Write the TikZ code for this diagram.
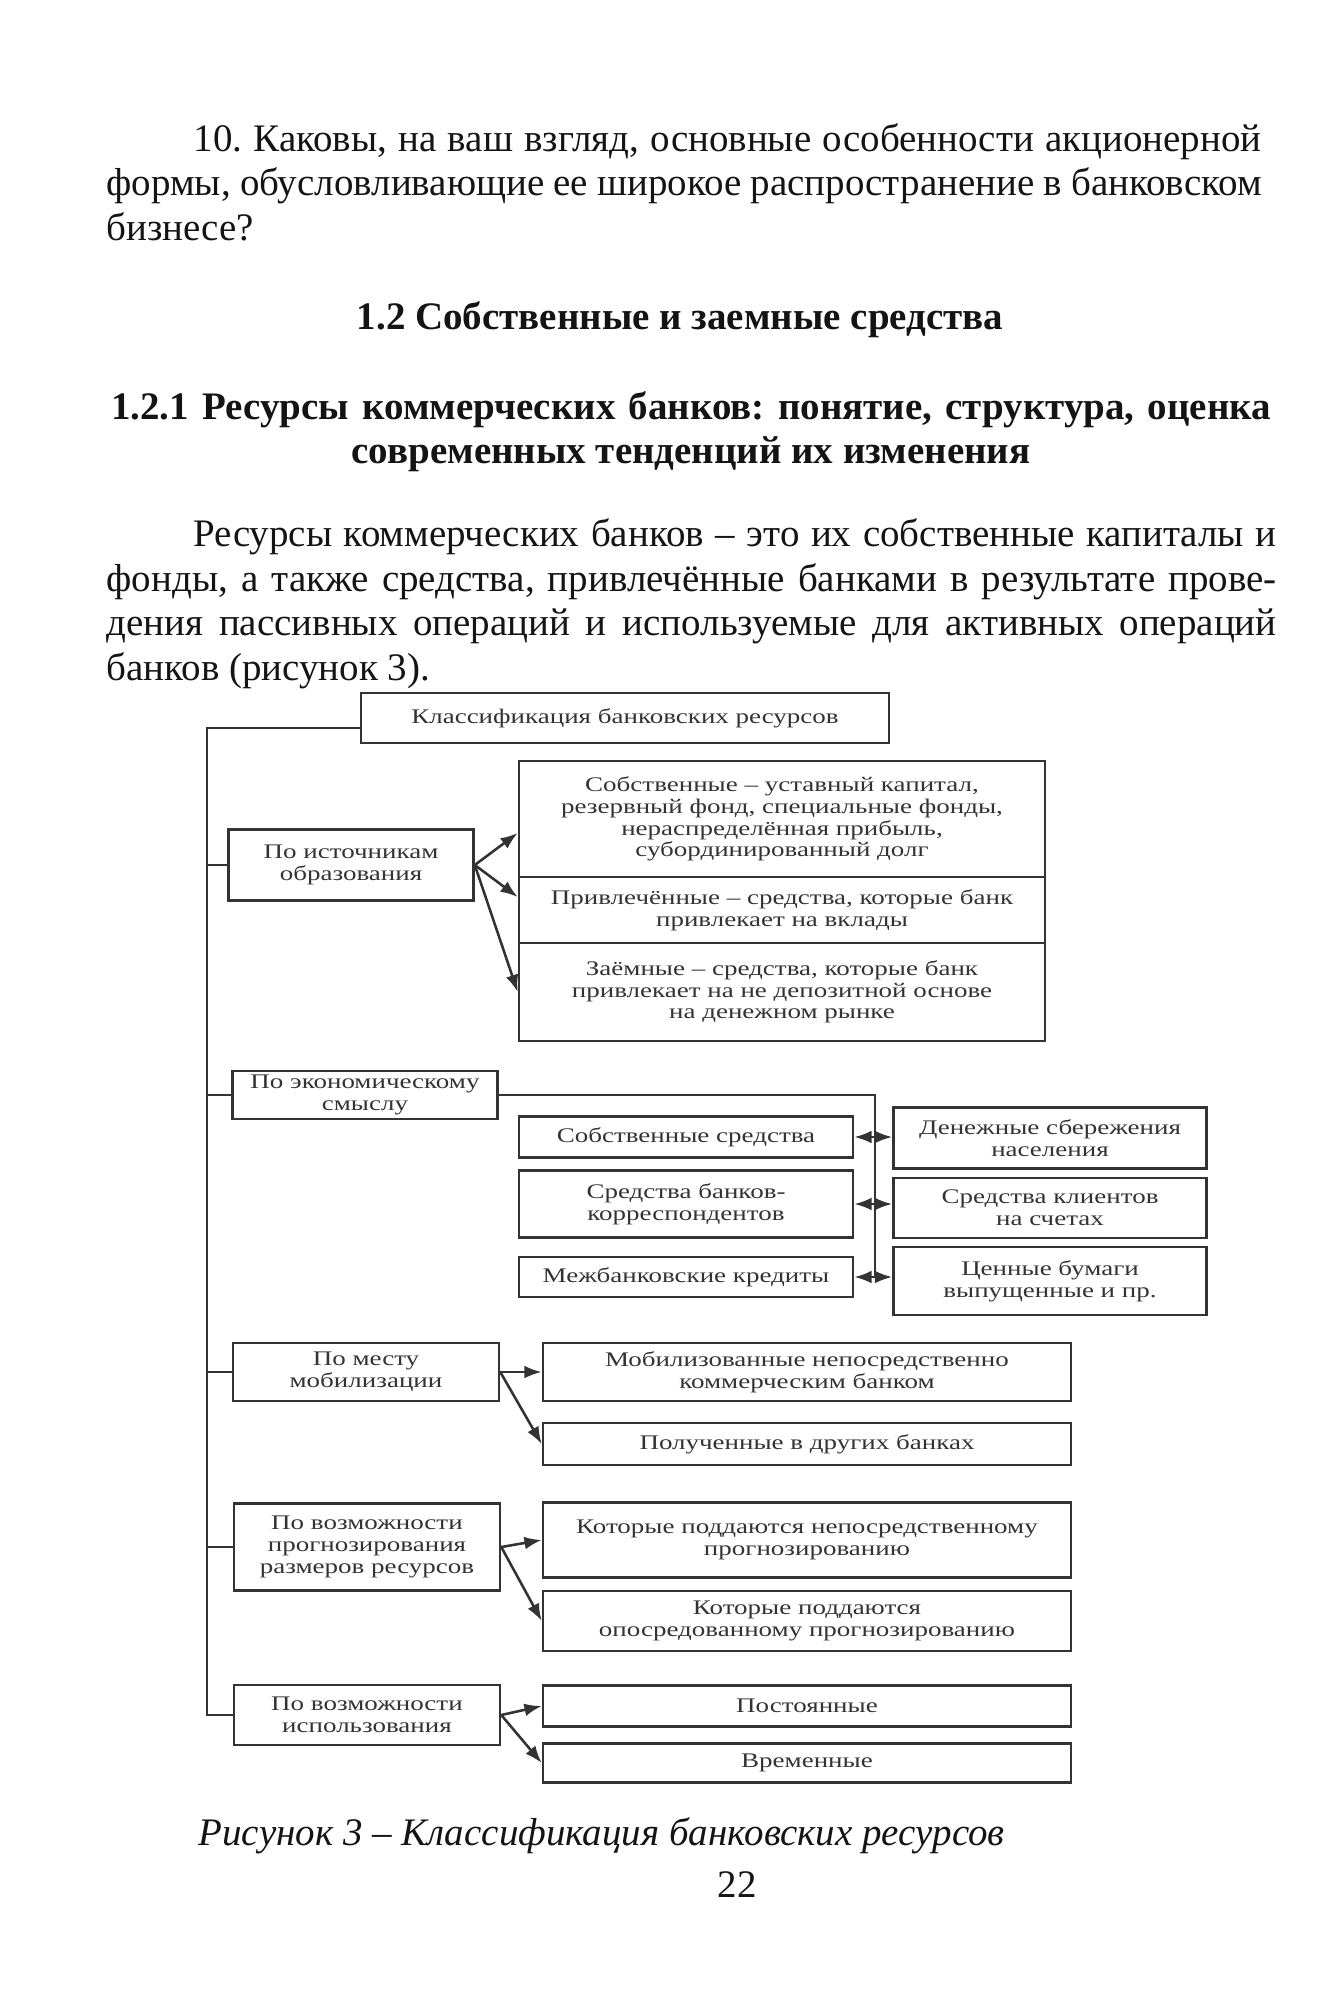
\documentclass[tikz,border=0pt]{standalone}
\usepackage{fontspec}
\setmainfont{Liberation Serif}
\newfontfamily\diagfont[FakeStretch=1.3]{Liberation Serif}
\usetikzlibrary{arrows.meta,positioning}
\newlength\pxu
\setlength\pxu{0.11mm}
\definecolor{ink}{gray}{0.08}
\definecolor{dink}{gray}{0.2}
\frenchspacing
\tikzstyle{box} = [draw=dink,line width=0.8pt,align=center,inner sep=1pt,text=dink,font=\fontsize{6.5}{6.8}\diagfont]
\tikzstyle{edge} = [draw=dink,line width=0.8pt,-{Latex[length=1.9mm,width=1.4mm]}]
\tikzstyle{dedge} = [draw=dink,line width=0.8pt,{Latex[length=1.9mm,width=1.4mm]}-{Latex[length=1.9mm,width=1.4mm]}]
\tikzstyle{line} = [draw=dink,line width=0.8pt]
\tikzstyle{txt} = [align=left,inner sep=0,text=ink,font=\fontsize{12.2}{13.9}\selectfont]
\tikzstyle{head} = [align=center,inner sep=0,text=ink,font=\bfseries\fontsize{12.2}{13.6}\selectfont]
\tikzset{sz/.style 2 args={minimum width=#1\pxu,minimum height=#2\pxu}}

\begin{document}
\begin{tikzpicture}[x=\pxu,y=-\pxu]
   \fill[white] (0,0) rectangle (1343,2000);
   \useasboundingbox (0,0) rectangle (1343,2000);

   \node[txt,anchor=base west] (q10) at (106,240) {\hspace*{87\pxu}\makebox[1068\pxu][s]{10. Каковы, на ваш взгляд, основные особенности акционерной}\\
      \makebox[1155\pxu][s]{формы, обусловливающие ее широкое распространение в банковском}\\
      бизнесе?};
   \node[head,anchor=base] (h12) at (680,329) {1.2 Собственные и заемные средства};
   \node[head,anchor=base] (h121) at (691,463) {\makebox[1160\pxu][s]{1.2.1 Ресурсы коммерческих банков: понятие, структура, оценка}\\
      современных тенденций их изменения};
   \node[txt,anchor=base west] (par) at (106,680) {\hspace*{87\pxu}\makebox[1083\pxu][s]{Ресурсы коммерческих банков – это их собственные капиталы и}\\
      \makebox[1170\pxu][s]{фонды, а также средства, привлечённые банками в результате прове-}\\
      \makebox[1170\pxu][s]{дения пассивных операций и используемые для активных операций}\\
      банков (рисунок 3).};

   \node[box,sz={528}{50}] (cls) at (625,718) {Классификация банковских ресурсов};

   \node[box,sz={245}{71}] (src) at (351,865) {По источникам\\образования};
   \node[box,sz={526}{116}] (own) at (782,819) {Собственные – уставный капитал,\\резервный фонд, специальные фонды,\\нераспределённая прибыль,\\субординированный долг};
   \node[box,sz={526}{66}] (att) at (782,910) {Привлечённые – средства, которые банк\\привлекает на вклады};
   \node[box,sz={526}{98}] (brw) at (782,992) {Заёмные – средства, которые банк\\привлекает на не депозитной основе\\на денежном рынке};

   \node[box,sz={265}{48}] (eco) at (365,1095) {По экономическому\\смыслу};
   \node[box,sz={334}{41}] (eown) at (686,1137) {Собственные средства};
   \node[box,sz={334}{67}] (corr) at (686,1204) {Средства банков-\\корреспондентов};
   \node[box,sz={334}{40}] (ibl) at (686,1277) {Межбанковские кредиты};
   \node[box,sz={313}{61}] (sav) at (1050,1138) {Денежные сбережения\\населения};
   \node[box,sz={313}{60}] (cli) at (1050,1208) {Средства клиентов\\на счетах};
   \node[box,sz={313}{68}] (sec) at (1050,1281) {Ценные бумаги\\выпущенные и пр.};

   \node[box,sz={266}{58}] (plc) at (366,1372) {По месту\\мобилизации};
   \node[box,sz={528}{58}] (mob) at (807,1372) {Мобилизованные непосредственно\\коммерческим банком};
   \node[box,sz={528}{42}] (oth) at (807,1444) {Полученные в других банках};

   \node[box,sz={266}{87}] (fc) at (367,1547) {По возможности\\прогнозирования\\размеров ресурсов};
   \node[box,sz={528}{75}] (dir) at (807,1540) {Которые поддаются непосредственному\\прогнозированию};
   \node[box,sz={528}{60}] (ind) at (807,1621) {Которые поддаются\\опосредованному прогнозированию};

   \node[box,sz={266}{60}] (use) at (367,1715) {По возможности\\использования};
   \node[box,sz={528}{41}] (perm) at (807,1706) {Постоянные};
   \node[box,sz={528}{39}] (temp) at (807,1763) {Временные};

   \coordinate (trunk) at (207,728);
   \coordinate (bus) at (875,1278);

   \path[line] (cls.west |- trunk) -- (trunk) -- (trunk |- use.west) -- (use.west);
   \path[line] (trunk |- src.west) -- (src.west);
   \path[line] (trunk |- eco.west) -- (eco.west);
   \path[line] (trunk |- plc.west) -- (plc.west);
   \path[line] (trunk |- fc.west) -- (fc.west);

   \path[edge] (src.east) -- ([yshift=-14\pxu]own.west);
   \path[edge] (src.east) -- ([yshift=13\pxu]att.west);
   \path[edge] (src.east) -- (brw.west);

   \path[line] (eco.east) -| (bus);
   \path[dedge] (eown.east) -- (eown.east -| sav.west);
   \path[dedge] (corr.east) -- (corr.east -| cli.west);
   \path[dedge] (ibl.east) -- (ibl.east -| sec.west);

   \path[edge] (plc.east) -- (mob.west);
   \path[edge] (plc.east) -- (oth.west);
   \path[edge] (fc.east) -- (dir.west);
   \path[edge] (fc.east) -- (ind.west);
   \path[edge] (use.east) -- (perm.west);
   \path[edge] (use.east) -- (temp.west);

   \node[anchor=base west,inner sep=0,text=ink,font=\itshape\fontsize{12.2}{15}\selectfont] (cap) at (198,1845) {Рисунок 3 – Классификация банковских ресурсов};
   \node[anchor=base,inner sep=0,text=ink,font=\fontsize{12.2}{14}\selectfont] (pg) at (737,1897) {22};
\end{tikzpicture}
\end{document}
